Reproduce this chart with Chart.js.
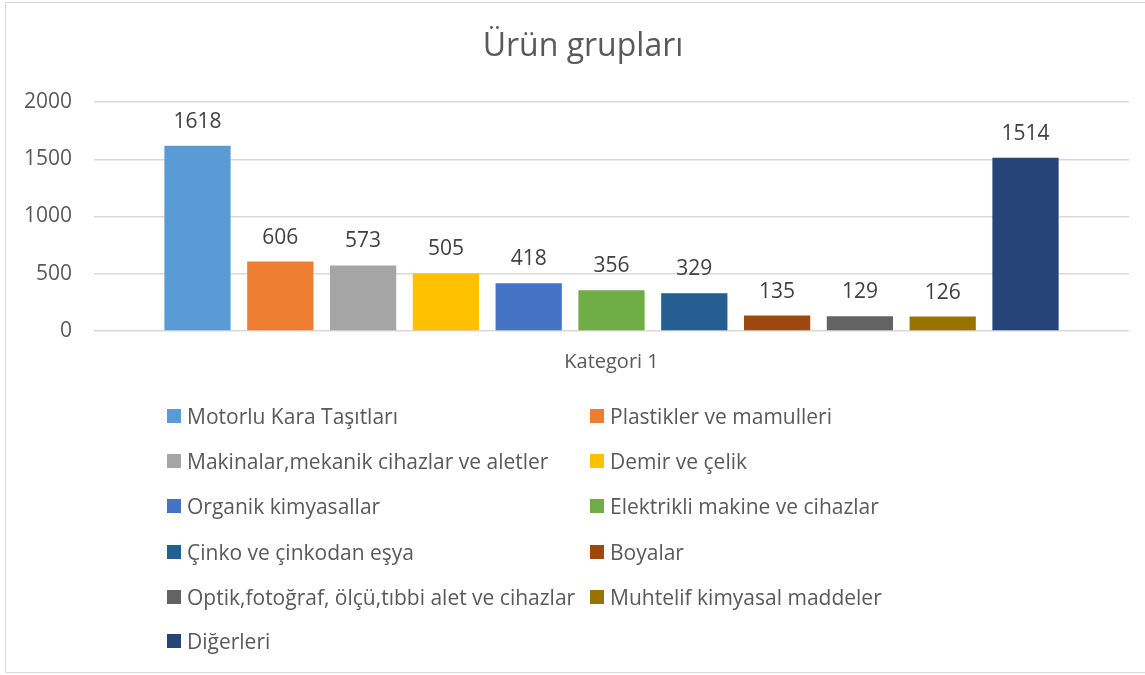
<!DOCTYPE html>
<html>
<head>
<meta charset="utf-8">
<script src="https://cdn.jsdelivr.net/npm/chart.js@4.4.1/dist/chart.umd.min.js"></script>
<style>
  html, body { margin: 0; padding: 0; background: #fff; }
  #wrap { position: relative; width: 1145px; height: 675px; overflow: hidden; }
  #frame { position: absolute; left: 5px; top: 2px; width: 1160px; height: 671px; border: 1.5px solid #d9d9d9; box-sizing: border-box; }
  canvas { position: absolute; left: 0; top: 0; }
  #legend { position: absolute; left: 0; top: 0; font-family: "Open Sans", sans-serif; font-size: 21px; color: #595959; }
  .item { position: absolute; white-space: nowrap; line-height: 24px; height: 24px; }
  .box { position: absolute; left: 0; top: 5px; width: 14px; height: 14px; }
  .lbl { position: absolute; left: 20px; top: 0; }
</style>
</head>
<body>
<div id="wrap">
  <div id="frame"></div>
  <canvas id="c" width="1166" height="675"></canvas>
  <div id="legend"></div>
</div>
<script>
const categories = ["Kategori 1"];
const seriesNames = [
  "Motorlu Kara Taşıtları",
  "Plastikler ve mamulleri",
  "Makinalar,mekanik cihazlar ve aletler",
  "Demir ve çelik",
  "Organik kimyasallar",
  "Elektrikli makine ve cihazlar",
  "Çinko ve çinkodan eşya",
  "Boyalar",
  "Optik,fotoğraf, ölçü,tıbbi alet ve cihazlar",
  "Muhtelif kimyasal maddeler",
  "Diğerleri"
];
const seriesValues = [1618, 606, 573, 505, 418, 356, 329, 135, 129, 126, 1514];
const seriesColors = ["#5B9BD5", "#ED7D31", "#A5A5A5", "#FFC000", "#4472C4", "#70AD47", "#255E91", "#9E480E", "#636363", "#997300", "#264478"];
const yTicks = [0, 500, 1000, 1500, 2000];
const titleText = "Ürün grupları";

const FONT = '"Open Sans", sans-serif';

const datasets = seriesNames.map((name, i) => ({
  label: name,
  data: [seriesValues[i]],
  backgroundColor: seriesColors[i],
  borderWidth: 0,
  categoryPercentage: 0.88,
  barPercentage: 0.8
}));

const dataLabels = {
  id: 'dataLabels',
  afterDatasetsDraw(chart) {
    const ctx = chart.ctx;
    ctx.save();
    ctx.font = '21px ' + FONT;
    ctx.fillStyle = '#404040';
    ctx.textAlign = 'center';
    ctx.textBaseline = 'middle';
    chart.data.datasets.forEach((ds, i) => {
      const meta = chart.getDatasetMeta(i);
      meta.data.forEach((el, j) => {
        ctx.fillText(String(ds.data[j]), el.x, el.y - 24);
      });
    });
    ctx.restore();
  }
};

new Chart(document.getElementById('c'), {
  type: 'bar',
  data: { labels: categories, datasets },
  options: {
    responsive: false,
    animation: false,
    devicePixelRatio: 1,
    layout: { padding: { left: 0, right: 0, top: 0, bottom: 300 } },
    plugins: {
      legend: { display: false },
      tooltip: { enabled: false },
      title: {
        display: true,
        text: titleText,
        color: '#595959',
        font: { family: FONT, size: 32, weight: 'normal' },
        padding: { top: 28, bottom: 35.6 }
      }
    },
    scales: {
      x: {
        grid: { display: false, drawTicks: false },
        border: { display: false },
        ticks: { color: '#595959', font: { family: FONT, size: 20 }, padding: 19 },
        afterFit(scale) { scale.height = 44; }
      },
      y: {
        min: 0, max: 2000,
        afterBuildTicks(scale) { scale.ticks = yTicks.map(v => ({ value: v })); },
        grid: { color: '#d9d9d9', lineWidth: 1.5, drawTicks: false },
        border: { display: false },
        ticks: { color: '#595959', font: { family: FONT, size: 21 }, padding: 22, callback: v => String(v) },
        afterFit(scale) { scale.width = 94; }
      },
      yRight: {
        type: 'linear',
        position: 'right',
        display: true,
        min: 0, max: 2000,
        grid: { display: false, drawTicks: false },
        border: { display: false },
        ticks: { display: false },
        afterFit(scale) { scale.width = 37; }
      }
    }
  },
  plugins: [dataLabels]
});

// legend (two columns)
const legend = document.getElementById('legend');
const rowTops = [404, 449, 494, 540, 585, 629];
seriesNames.forEach((name, i) => {
  const col = i % 2, row = Math.floor(i / 2);
  const item = document.createElement('div');
  item.className = 'item';
  item.style.left = (col === 0 ? 167 : 590) + 'px';
  item.style.top = rowTops[row] + 'px';
  const box = document.createElement('div');
  box.className = 'box';
  box.style.background = seriesColors[i];
  const lbl = document.createElement('span');
  lbl.className = 'lbl';
  lbl.textContent = name;
  item.appendChild(box);
  item.appendChild(lbl);
  legend.appendChild(item);
});
</script>
</body>
</html>
